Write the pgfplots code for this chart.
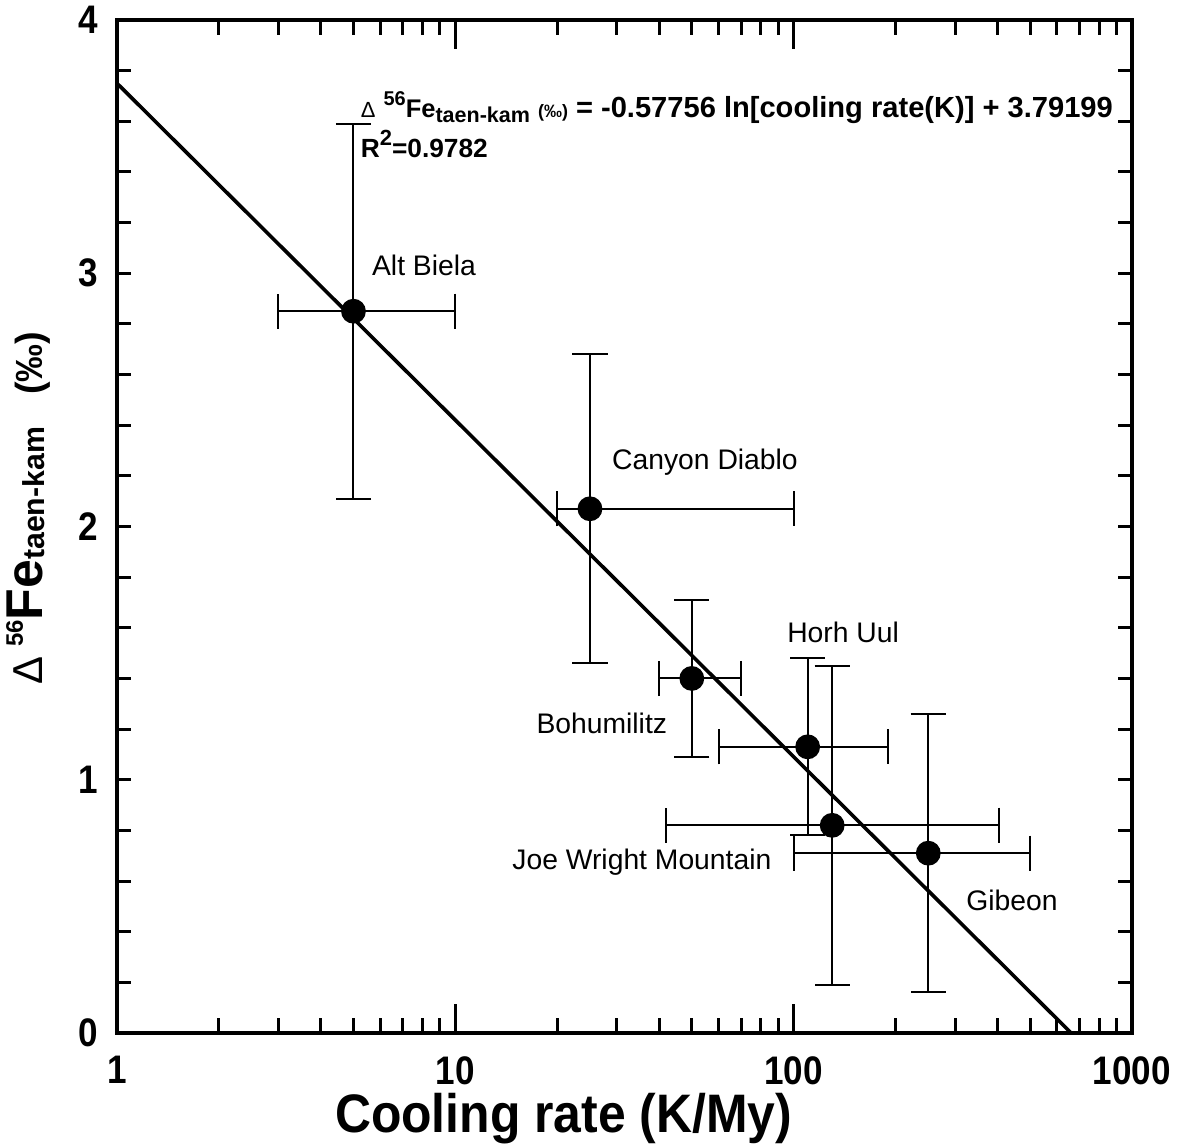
\documentclass[border=0pt]{standalone}
\usepackage{fontspec}
\setmainfont{Liberation Sans}
\newfontfamily\narrowfont[FakeStretch=0.88]{Liberation Sans}
\newfontfamily\labelfont[FakeStretch=0.92]{Liberation Sans}
\usepackage{pgfplots}
\usepackage{pgfplotstable}
\pgfplotsset{compat=1.18}

% cooling rate, delta56Fe, error bar extents
\pgfplotstableread{
x    y     xm   xp   ym   yp
5    2.85  2    5    0.74 0.74
25   2.07  5    75   0.61 0.61
50   1.40  10   20   0.31 0.31
110  1.13  50   80   0.35 0.35
130  0.82  88   275  0.63 0.63
250  0.71  150  250  0.55 0.55
}\datatable

\newcommand{\lab}{\fontsize{7.1}{8.5}\selectfont}

\begin{document}
\begin{tikzpicture}
\begin{axis}[
    scale only axis,
    width=253.75bp, height=253.25bp,
    xmode=log,
    xmin=1, xmax=1000, ymin=0, ymax=4,
    axis line style={line width=1bp},
    xtick={1,10,100,1000}, xticklabels={1,10,100,1000},
    minor xtick={2,3,...,9,20,30,...,90,200,300,...,900},
    ytick={0,1,2,3,4}, yticklabels={0,1,2,3,4},
    minor ytick={0.2,0.4,...,3.9},
    tick align=inside,
    tick style={black, line width=0.75bp},
    xtick style={/pgfplots/major tick length=7.2bp, /pgfplots/minor tick length=3.75bp},
    ytick style={/pgfplots/major tick length=3.5bp, /pgfplots/minor tick length=3.5bp},
    ticklabel style={font=\narrowfont\fontsize{10}{11}\selectfont\bfseries, inner sep=0pt},
    xticklabel style={anchor=north, yshift=-5.6bp},
    yticklabel style={anchor=east, xshift=-4.5bp},
    xlabel={Cooling rate (K/My)},
    every axis x label/.style={at={(axis description cs:0.44,-0.0585)}, anchor=north, inner sep=0pt,
        font=\labelfont\fontsize{13.6}{16}\selectfont\bfseries},
    ylabel={{\fontsize{10.5}{12}\selectfont Δ}\hspace{2.5bp}\raisebox{5bp}{\fontsize{6}{7}\selectfont\bfseries 56}{\fontsize{13}{15}\selectfont\bfseries Fe}\raisebox{-0.5bp}{\fontsize{7.6}{9}\selectfont\bfseries taen-kam}\hspace{8bp}{\fontsize{9.5}{11}\selectfont\bfseries (‰)}},
    every axis y label/.style={at={(axis description cs:-0.0729,0.518)}, rotate=90, anchor=base, inner sep=0pt},
]
% fit line
\addplot[black, line width=0.9bp, no marks] coordinates {(1,3.75) (661,0)};
% data with error bars
\addplot[black, only marks, mark=*, mark size=2.9bp,
    error bars/.cd,
      x dir=both, x explicit, y dir=both, y explicit,
      error bar style={line width=0.5bp, black},
      error mark options={rotate=90, mark size=4.4bp, line width=0.5bp, black}]
  table[x=x, y=y, x error plus=xp, x error minus=xm, y error plus=yp, y error minus=ym] {\datatable};

\node[font=\lab] at (axis cs:8.08,3.03) {Alt Biela};
\node[font=\lab] at (axis cs:54.7,2.255) {Canyon Diablo};
\node[font=\lab] at (axis cs:140,1.583) {Horh Uul};
\node[font=\lab] at (axis cs:27.1,1.224) {Bohumilitz};
\node[font=\lab] at (axis cs:35.6,0.675) {Joe Wright Mountain};
\node[font=\lab] at (axis cs:442,0.525) {Gibeon};

\node[anchor=base west, inner sep=0pt, font=\fontsize{7.3}{8.8}\selectfont\bfseries] at (axis cs:5.23,3.613)
  {{\mdseries\fontsize{5.5}{6}\selectfont Δ} \raisebox{3.2bp}{\fontsize{5}{6}\selectfont 56}{\fontsize{6.4}{7}\selectfont Fe}\raisebox{-1.2bp}{\fontsize{5.4}{6}\selectfont taen-kam} {\fontsize{4.5}{5}\selectfont(‰)} = -0.57756 ln[cooling rate(K)] + 3.79199};
\node[anchor=base west, inner sep=0pt, font=\fontsize{6.6}{8}\selectfont\bfseries] at (axis cs:5.23,3.459)
  {R\raisebox{3bp}{\fontsize{5.5}{6}\selectfont 2}=0.9782};
\end{axis}
\pgfresetboundingbox
\path[use as bounding box] (-29.25bp,-27.75bp) rectangle (266.75bp,258.25bp);
\end{tikzpicture}
\end{document}
